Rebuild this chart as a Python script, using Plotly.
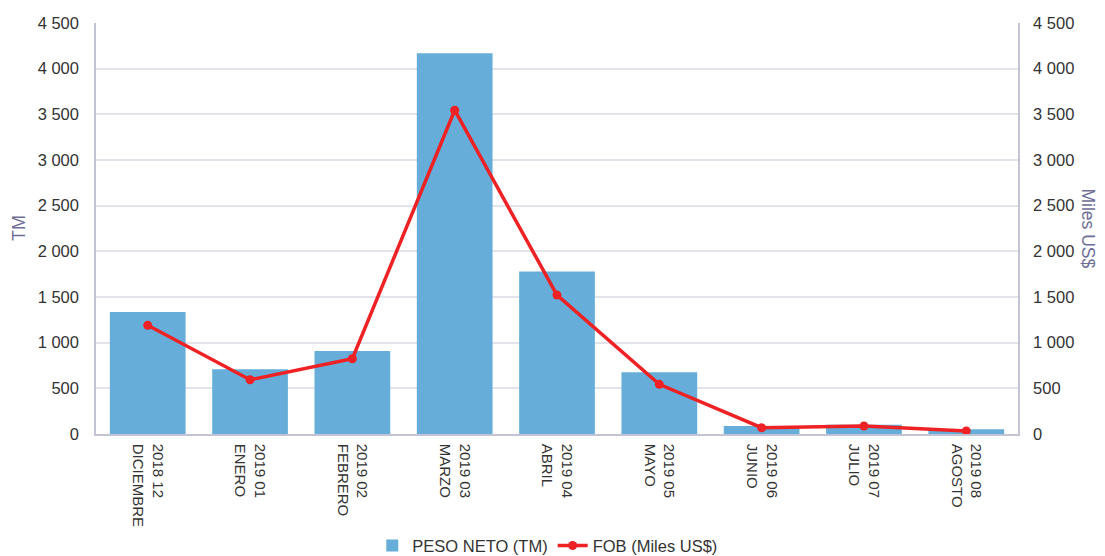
import plotly.graph_objects as go

categories = ["2018 12<br>DICIEMBRE", "2019 01<br>ENERO", "2019 02<br>FEBRERO", "2019 03<br>MARZO",
              "2019 04<br>ABRIL", "2019 05<br>MAYO", "2019 06<br>JUNIO", "2019 07<br>JULIO", "2019 08<br>AGOSTO"]
peso_neto = [1335, 708, 908, 4170, 1780, 675, 88, 100, 51]
fob = [1190, 594, 824, 3545, 1521, 544, 69, 88, 33]
y_ticks = [0, 500, 1000, 1500, 2000, 2500, 3000, 3500, 4000, 4500]

font_family = "Liberation Sans, Arial, sans-serif"
tick_color = "#333333"
axis_title_color = "#6e6e96"
axis_line_color = "#c3c3d6"
grid_color = "#e3e3ec"

fig = go.Figure()
fig.add_trace(go.Bar(x=categories, y=peso_neto, name="PESO NETO (TM)",
                     marker=dict(color="#66aed9", line=dict(width=0)), yaxis="y"))
fig.add_trace(go.Scatter(x=categories, y=fob, name="FOB (Miles US$)", mode="lines+markers",
                         line=dict(color="#ee2224", width=3.5), marker=dict(color="#ee2224", size=9),
                         yaxis="y2"))

# page body adds an 8px offset, so the figure is 1097x548 with margins shifted accordingly
fig.update_layout(
    width=1097, height=548,
    margin=dict(l=88, r=87, t=15, b=122, autoexpand=False),
    paper_bgcolor="white", plot_bgcolor="white",
    font=dict(family=font_family, size=15, color=tick_color),
    separators=", ",
    bargap=0.26,
    showlegend=True,
    legend=dict(orientation="h", x=0.49, xanchor="center", y=-0.272, yanchor="middle",
                font=dict(size=16.5, color=tick_color), itemwidth=30, tracegroupgap=0),
    xaxis=dict(tickangle=90, showgrid=False, showline=True, linecolor=axis_line_color, linewidth=1.5,
               ticks="", ticklabelstandoff=5, automargin=False, tickfont=dict(size=15, color=tick_color)),
    yaxis=dict(range=[0, 4500], tickvals=y_ticks, tickformat=",d", showgrid=True, gridcolor=grid_color,
               gridwidth=1.5, showline=True, linecolor=axis_line_color, linewidth=1.5, zeroline=False,
               ticks="", ticklabelstandoff=12, automargin=False, tickfont=dict(size=16.5, color=tick_color)),
    yaxis2=dict(range=[0, 4500], tickvals=y_ticks, tickformat=",d", overlaying="y", side="right",
                showgrid=False, showline=True, linecolor=axis_line_color, linewidth=1.5, zeroline=False,
                ticks="", ticklabelstandoff=10, automargin=False, tickfont=dict(size=16.5, color=tick_color)),
    annotations=[
        dict(text="TM", xref="paper", yref="paper", x=-0.084, y=0.5, textangle=-90, showarrow=False,
             font=dict(size=18, color=axis_title_color), xanchor="center", yanchor="middle"),
        dict(text="Miles US$", xref="paper", yref="paper", x=1.077, y=0.5, textangle=90, showarrow=False,
             font=dict(size=17.5, color=axis_title_color), xanchor="center", yanchor="middle"),
    ],
)

fig.write_html("out.html")
